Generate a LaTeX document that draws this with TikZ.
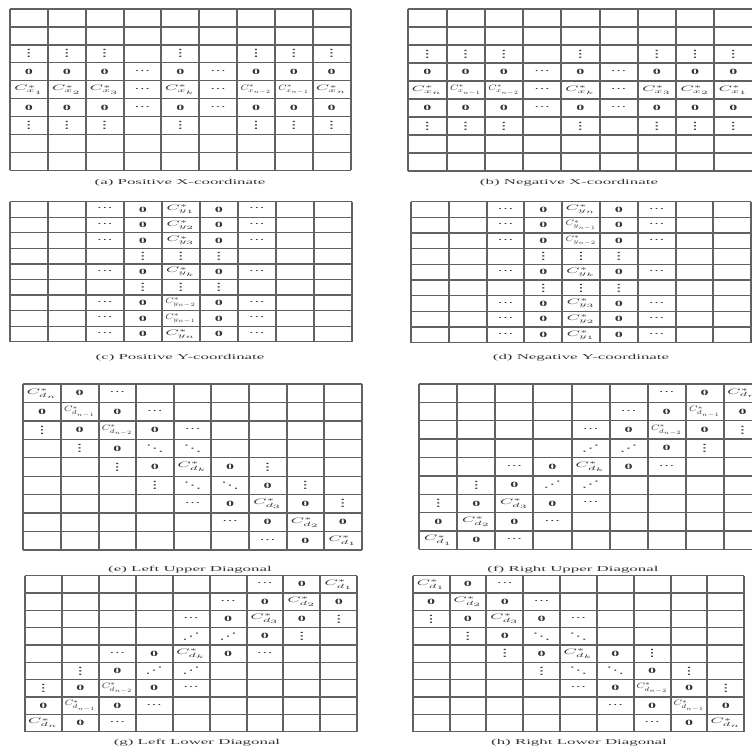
\documentclass[tikz,border=0pt]{standalone}
\usepackage{fontspec}
\setmainfont{Liberation Serif}
\newfontfamily\dotsfont{DejaVu Sans}
\tikzset{
  vl/.style={draw=black!62, line width=2pt},
  hl/.style={draw=black!62, line width=1.3pt},
  cell/.style={inner sep=0pt, font=\fontsize{8}{9}\selectfont, text=black!80},
  captext/.style={inner sep=0pt, font=\fontsize{7.5}{8}\selectfont, text=black!80},
}
\newsavebox\cellbox
\newcommand\fitx[1]{\sbox\cellbox{#1}\pgfmathsetmacro\fac{min(2,31pt/\wd\cellbox)}\scalebox{\fac}[1]{\usebox\cellbox}}
\newcommand\sxcap[1]{\scalebox{2.25}[1]{#1}}
\newcommand\Zr{\textbf{0}}
\newcommand\Hd{{\dotsfont\fontsize{8}{9}\selectfont ⋯}}
\newcommand\Vd{{\dotsfont\fontsize{10}{11}\selectfont ⋮}}
\newcommand\Dn{{\dotsfont\fontsize{9}{10}\selectfont ⋱}}
\newcommand\Up{{\dotsfont\fontsize{9}{10}\selectfont ⋰}}
\newcommand\Cc[2]{$C^{*}_{#1_{#2}}$}
\newcommand\setgrid[4]{\def\gL{#1}\def\gT{#2}\def\gW{#3}\def\gH{#4}}
\newcommand\drawgrid{%
  \foreach \i in {0,...,9}{\draw[vl] ({\gL+\i*\gW},\gT) -- ({\gL+\i*\gW},{\gT+9*\gH});}
  \foreach \j in {0,...,9}{\draw[hl] (\gL,{\gT+\j*\gH}) -- ({\gL+9*\gW},{\gT+\j*\gH});}
}
\newcommand\cl[4]{\node[cell] (#1-#2-#3) at ({\gL+(#3+0.5)*\gW},{\gT+(#2+0.5)*\gH}) {\fitx{#4}};}
% x-coordinate pattern
\newcommand\xpat[9]{% name, letter, 7 subscripts
  \foreach \q in {0,1,2,4,6,7,8}{\cl{#1}{2}{\q}{\Vd}\cl{#1}{3}{\q}{\Zr}\cl{#1}{5}{\q}{\Zr}\cl{#1}{6}{\q}{\Vd}}
  \foreach \q in {3,5}{\cl{#1}{3}{\q}{\Hd}\cl{#1}{4}{\q}{\Hd}\cl{#1}{5}{\q}{\Hd}}
  \cl{#1}{4}{0}{\Cc{#2}{#3}}\cl{#1}{4}{1}{\Cc{#2}{#4}}\cl{#1}{4}{2}{\Cc{#2}{#5}}
  \cl{#1}{4}{4}{\Cc{#2}{#6}}\cl{#1}{4}{6}{\Cc{#2}{#7}}\cl{#1}{4}{7}{\Cc{#2}{#8}}\cl{#1}{4}{8}{\Cc{#2}{#9}}
}
% y-coordinate pattern
\newcommand\ypat[9]{%
  \foreach \p in {0,1,2,4,6,7,8}{\cl{#1}{\p}{2}{\Hd}\cl{#1}{\p}{3}{\Zr}\cl{#1}{\p}{5}{\Zr}\cl{#1}{\p}{6}{\Hd}}
  \foreach \p in {3,5}{\foreach \q in {3,4,5}{\cl{#1}{\p}{\q}{\Vd}}}
  \cl{#1}{0}{4}{\Cc{#2}{#3}}\cl{#1}{1}{4}{\Cc{#2}{#4}}\cl{#1}{2}{4}{\Cc{#2}{#5}}
  \cl{#1}{4}{4}{\Cc{#2}{#6}}\cl{#1}{6}{4}{\Cc{#2}{#7}}\cl{#1}{7}{4}{\Cc{#2}{#8}}\cl{#1}{8}{4}{\Cc{#2}{#9}}
}
% main diagonal pattern (top-left to bottom-right)
\newcommand\dpat[9]{%
  \foreach \p/\q in {0/1,1/0,1/2,2/1,2/3,3/2,4/3,4/5,5/6,6/5,6/7,7/6,7/8,8/7}{\cl{#1}{\p}{\q}{\Zr}}
  \foreach \p/\q in {0/2,1/3,2/4,6/4,7/5,8/6}{\cl{#1}{\p}{\q}{\Hd}}
  \foreach \p/\q in {2/0,3/1,4/2,5/3,4/6,5/7,6/8}{\cl{#1}{\p}{\q}{\Vd}}
  \foreach \p/\q in {3/3,3/4,5/4,5/5}{\cl{#1}{\p}{\q}{\Dn}}
  \cl{#1}{0}{0}{\Cc{#2}{#3}}\cl{#1}{1}{1}{\Cc{#2}{#4}}\cl{#1}{2}{2}{\Cc{#2}{#5}}
  \cl{#1}{4}{4}{\Cc{#2}{#6}}\cl{#1}{6}{6}{\Cc{#2}{#7}}\cl{#1}{7}{7}{\Cc{#2}{#8}}\cl{#1}{8}{8}{\Cc{#2}{#9}}
}
% anti-diagonal pattern (top-right to bottom-left)
\newcommand\apat[9]{%
  \foreach \p/\q in {0/7,1/6,1/8,2/5,2/7,3/6,4/3,4/5,5/2,6/1,6/3,7/0,7/2,8/1}{\cl{#1}{\p}{\q}{\Zr}}
  \foreach \p/\q in {0/6,1/5,2/4,4/2,4/6,6/4,7/3,8/2}{\cl{#1}{\p}{\q}{\Hd}}
  \foreach \p/\q in {2/8,3/7,5/1,6/0}{\cl{#1}{\p}{\q}{\Vd}}
  \foreach \p/\q in {3/4,3/5,5/3,5/4}{\cl{#1}{\p}{\q}{\Up}}
  \cl{#1}{0}{8}{\Cc{#2}{#3}}\cl{#1}{1}{7}{\Cc{#2}{#4}}\cl{#1}{2}{6}{\Cc{#2}{#5}}
  \cl{#1}{4}{4}{\Cc{#2}{#6}}\cl{#1}{6}{2}{\Cc{#2}{#7}}\cl{#1}{7}{1}{\Cc{#2}{#8}}\cl{#1}{8}{0}{\Cc{#2}{#9}}
}
\begin{document}
\begin{tikzpicture}[x=1pt,y=-1pt]
\useasboundingbox (0,0) rectangle (752,748);
\fill[white] (0,0) rectangle (752,748);
\clip (0,0) rectangle (752,748);
% (a)
\setgrid{10}{9}{37.85}{17.93}\drawgrid
\xpat{a}{x}{1}{2}{3}{k}{n-2}{n-1}{n}
\node[captext] (capa) at (180,183) {\sxcap{(a) Positive X-coordinate}};
% (b)
\setgrid{408.3}{9}{38.25}{18}\drawgrid
\xpat{b}{x}{n}{n-1}{n-2}{k}{3}{2}{1}
\node[captext] (capb) at (569,183) {\sxcap{(b) Negative X-coordinate}};
% (c)
\setgrid{10}{201.7}{37.97}{15.56}\drawgrid
\ypat{c}{y}{1}{2}{3}{k}{n-2}{n-1}{n}
\node[captext] (capc) at (180,358) {\sxcap{(c) Positive Y-coordinate}};
% (d)
\setgrid{411}{201.7}{37.8}{15.67}\drawgrid
\ypat{d}{y}{n}{n-1}{n-2}{k}{3}{2}{1}
\node[captext] (capd) at (581,358) {\sxcap{(d) Negative Y-coordinate}};
% (e)
\setgrid{23.3}{384}{37.6}{18.44}\drawgrid
\dpat{e}{d}{n}{n-1}{n-2}{k}{3}{2}{1}
\node[captext] (cape) at (190,570) {\sxcap{(e) Left Upper Diagonal}};
% (f)
\setgrid{419.3}{384}{38.05}{18.37}\drawgrid
\apat{f}{d}{n}{n-1}{n-2}{k}{3}{2}{1}
\node[captext] (capf) at (573,570) {\sxcap{(f) Right Upper Diagonal}};
% (g)
\setgrid{25}{575.7}{36.92}{17.33}\drawgrid
\apat{g}{d}{1}{2}{3}{k}{n-2}{n-1}{n}
\node[captext] (capg) at (197,743) {\sxcap{(g) Left Lower Diagonal}};
% (h)
\setgrid{412.7}{575.7}{36.84}{17.33}\drawgrid
\dpat{h}{d}{1}{2}{3}{k}{n-2}{n-1}{n}
\node[captext] (caph) at (579,743) {\sxcap{(h) Right Lower Diagonal}};
\end{tikzpicture}
\end{document}
